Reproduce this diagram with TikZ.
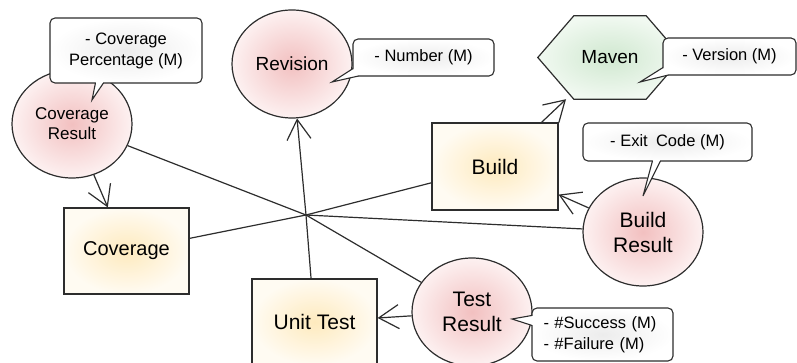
\documentclass[tikz,border=0pt]{standalone}
\usepackage{fontspec}
\setmainfont{Liberation Sans}
\usetikzlibrary{shapes.geometric,arrows.meta,backgrounds}

\definecolor{edge}{RGB}{45,45,45}
\definecolor{pinkin}{RGB}{242,192,192}
\definecolor{pinkout}{RGB}{253,241,241}
\definecolor{boxin}{RGB}{254,234,190}
\definecolor{boxout}{RGB}{255,251,242}
\definecolor{greenin}{RGB}{208,232,208}
\definecolor{greenout}{RGB}{241,249,241}
\definecolor{notein}{RGB}{236,236,236}

\begin{document}
\begin{tikzpicture}[x=1pt,y=-1pt,
  ent/.style={ellipse, draw=edge, line width=1.2pt, minimum width=120pt,
    minimum height=108pt, inner sep=0pt, align=center,
    inner color=pinkin, outer color=pinkout},
  act/.style={rectangle, draw=edge, line width=1.2pt, minimum width=125pt,
    minimum height=86pt, inner sep=0pt, inner color=boxin, outer color=boxout,
    font=\fontsize{21}{24}\selectfont},
  note/.style={rectangle, rounded corners=5pt, draw=edge, line width=1.1pt,
    inner color=notein, outer color=white, inner sep=0pt,
    font=\fontsize{16.5}{21}\selectfont},
  link/.style={draw=edge, line width=1.2pt},
  flow/.style={link, -{Straight Barb[length=20pt,width=24pt]}},
  tail/.style={draw=edge, line width=1.1pt, fill=white, line join=miter},
]
\useasboundingbox (0,0) rectangle (797,363);
\clip (0,0) rectangle (797,363);

% entities
\node[ent, font=\fontsize{17}{20}\selectfont] (covres) at (72,124) {Coverage\\Result};
\node[ent, font=\fontsize{19}{24}\selectfont] (rev) at (292,64) {Revision};
\node[ent, font=\fontsize{21}{25}\selectfont] (bres) at (643,232) {Build\\Result};
\node[ent, font=\fontsize{21}{25}\selectfont] (tres) at (472,312) {Test\\Result};

% activities
\node[act, font=\fontsize{20}{24}\selectfont] (cov) at (126.5,251) {Coverage};
\node[act, minimum width=126pt, minimum height=87pt] (build) at (495,166.5) {Build};
\node[act] (unit) at (314.5,322) {Unit Test};

% tool (hexagon)
\node[minimum width=144pt, minimum height=83pt, inner sep=0pt,
  font=\fontsize{19}{24}\selectfont] (maven) at (610,57.5) {Maven};
\begin{scope}[on background layer]
  \path[draw=edge, line width=1.2pt, inner color=greenin, outer color=greenout]
    (maven.west) -- ([xshift=36pt]maven.north west) -- ([xshift=-36pt]maven.north east)
    -- (maven.east) -- ([xshift=-36pt]maven.south east) -- ([xshift=36pt]maven.south west)
    -- cycle;
\end{scope}

% association hub
\coordinate (hub) at (306,215);
\draw[link] (hub) -- (covres);
\draw[link] (hub) -- (cov);
\draw[link] (hub) -- (build);
\draw[link] (hub) -- (bres);
\draw[link] (hub) -- (tres);
\draw[link] (hub) -- (unit);
\draw[flow] (hub) -- (rev);

% flows
\draw[flow] (covres) -- (cov);
\draw[flow] (build) -- (maven);
\draw[flow] (bres) -- (build);
\draw[flow] (tres) -- (unit);

% attribute notes
\node[note, minimum width=152pt, minimum height=65pt, align=center] (cpnote) at (126,50.5)
  {- Coverage\\Percentage (M)};
\coordinate (cptip) at (92,100);
\path[tail] ([xshift=46pt,yshift=0.55pt]cpnote.south west) -- (cptip)
  -- ([xshift=54pt,yshift=0.55pt]cpnote.south west);
\fill[white] ([xshift=46.8pt,yshift=0.3pt]cpnote.south west) rectangle ([xshift=53.2pt,yshift=1.4pt]cpnote.south west);

\node[note, minimum width=141pt, minimum height=37pt] (numnote) at (423.5,57.5) {- Number (M)};
\coordinate (numtip) at (332,82);
\path[tail] ([xshift=0.55pt,yshift=8pt]numnote.south west) -- (numtip)
  -- ([xshift=6pt,yshift=0.55pt]numnote.south west);

\node[note, minimum width=133pt, minimum height=37pt] (vernote) at (729.5,56.5) {- Version (M)};
\coordinate (vertip) at (640,82);
\path[tail] ([xshift=0.55pt,yshift=8pt]vernote.south west) -- (vertip)
  -- ([xshift=6pt,yshift=0.55pt]vernote.south west);

\node[note, minimum width=169pt, minimum height=38pt] (exitnote) at (667.5,142)
  {- Exit\enspace Code (M)};
\coordinate (exittip) at (643,196);
\path[tail] ([xshift=70pt,yshift=0.55pt]exitnote.south west) -- (exittip)
  -- ([xshift=78pt,yshift=0.55pt]exitnote.south west);
\fill[white] ([xshift=70.8pt,yshift=0.3pt]exitnote.south west) rectangle ([xshift=77.2pt,yshift=1.4pt]exitnote.south west);

\node[note, minimum width=141pt, minimum height=53pt, text width=118pt, align=left]
  (succnote) at (602.5,334.5) {- \#Success (M)\\- \#Failure (M)};
\coordinate (succtip) at (512,319);
\path[tail] ([xshift=0.55pt,yshift=-8pt]succnote.north west) -- (succtip)
  -- ([xshift=0.55pt,yshift=-18pt]succnote.north west);
\fill[white] ([xshift=0.3pt,yshift=-8.8pt]succnote.north west) rectangle ([xshift=1.4pt,yshift=-17.2pt]succnote.north west);
\end{tikzpicture}
\end{document}
